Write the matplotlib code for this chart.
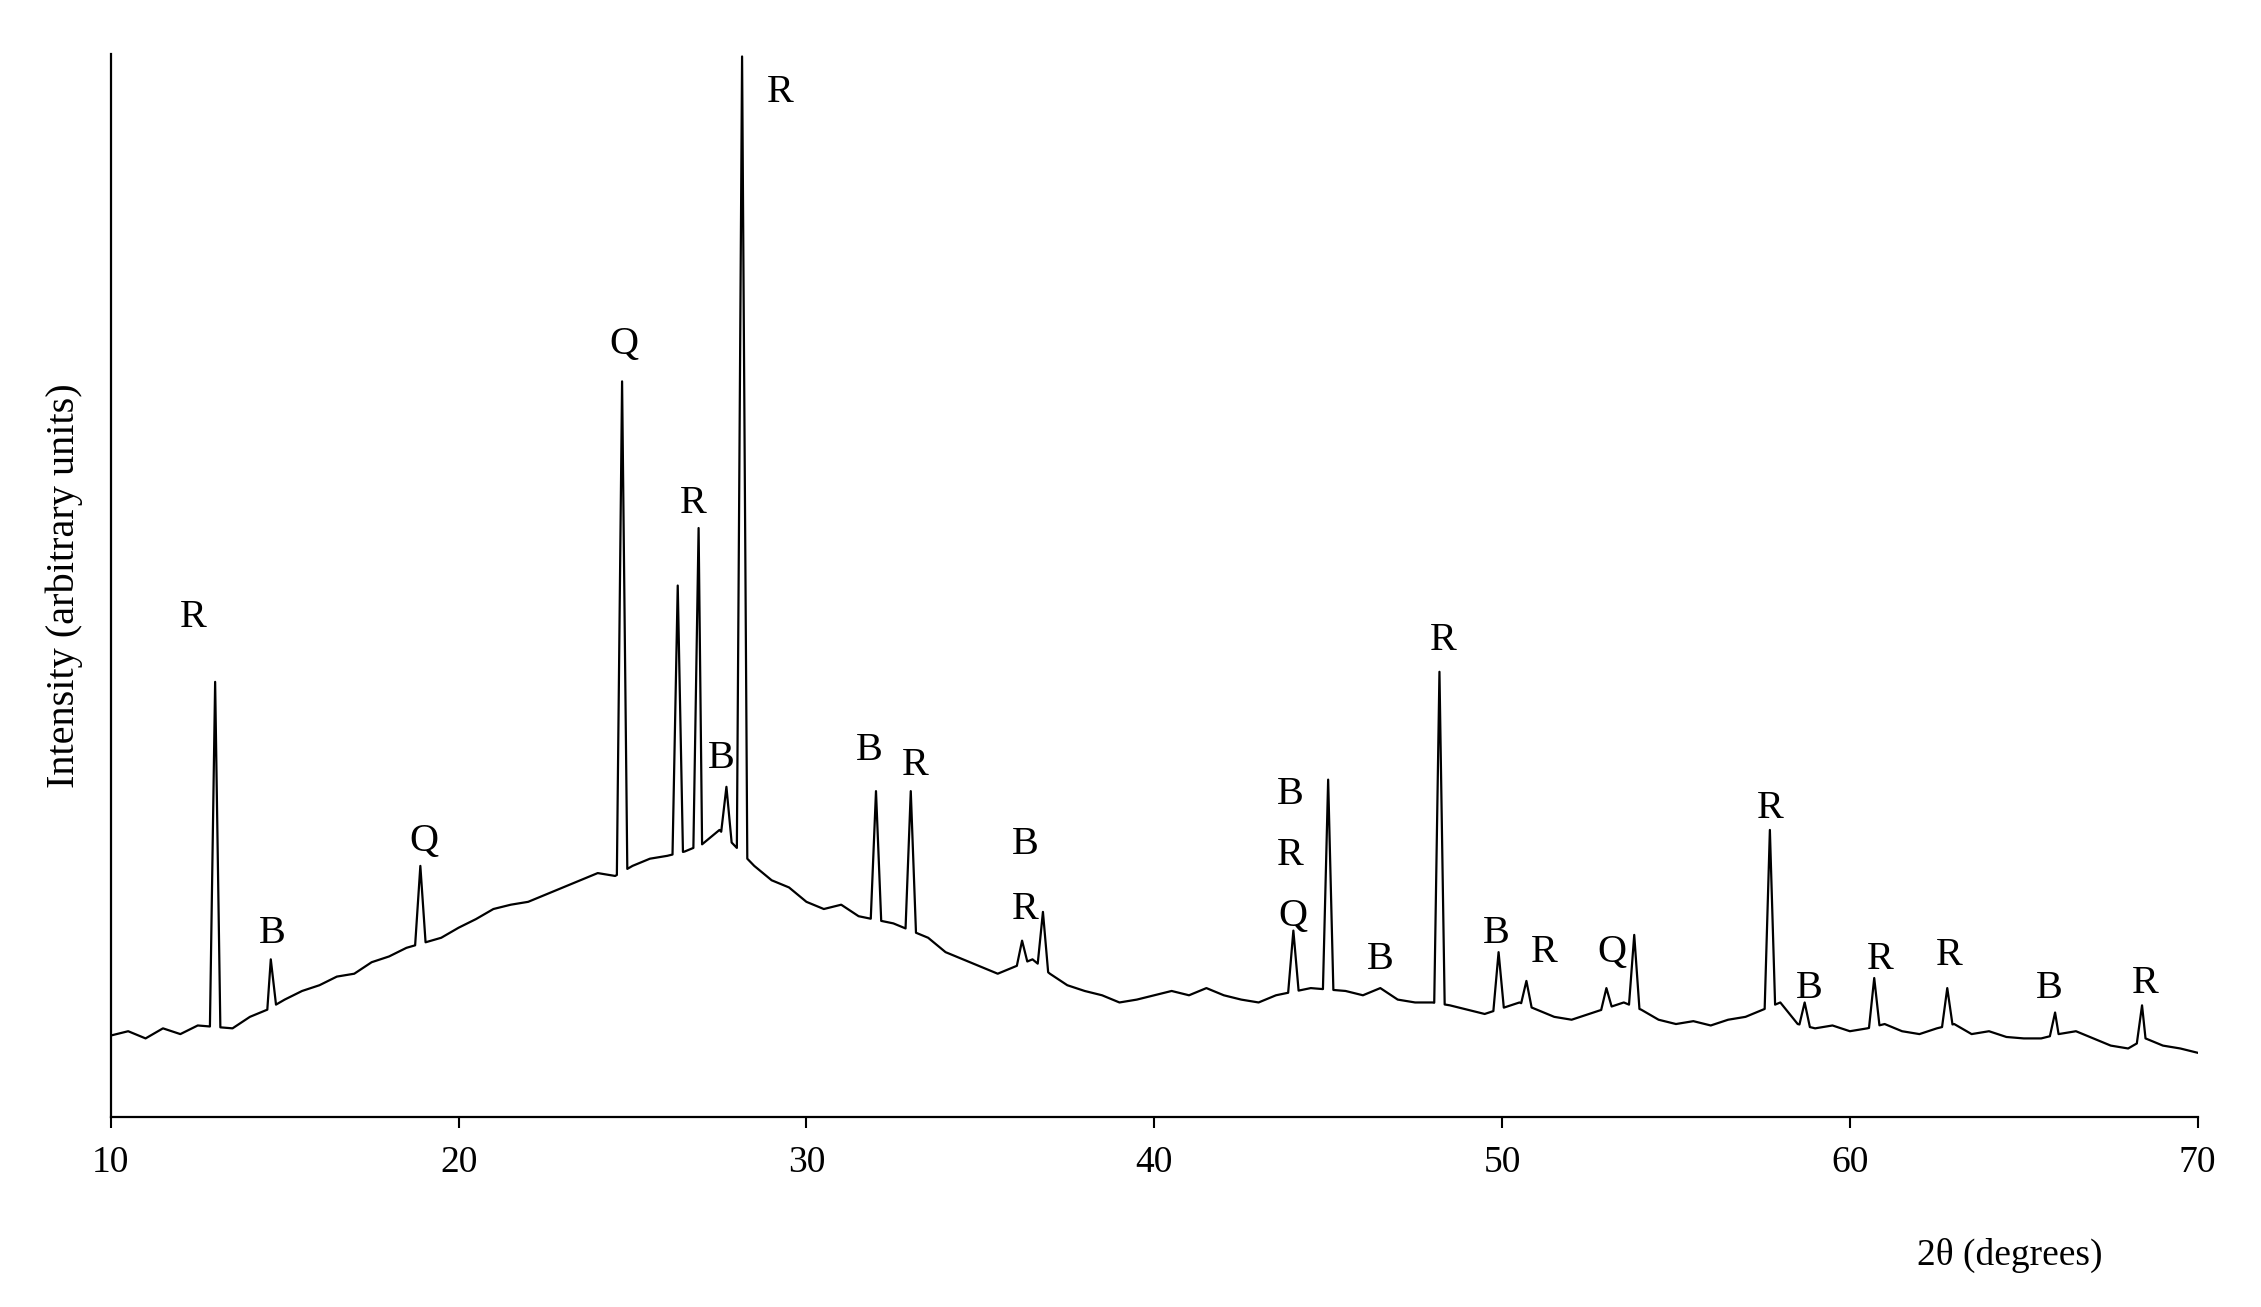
import matplotlib
matplotlib.use("Agg")
import matplotlib.pyplot as plt
import numpy as np

plt.rcParams['font.family'] = ['Liberation Serif', 'DejaVu Serif']

bg_x = [10,10.5,11,11.5,12,12.5,13.5,14,14.5,15,15.5,16,16.5,17,17.5,18,18.5,19.5,20,20.5,21,21.5,22,22.5,23,23.5,24,24.5,25,25.5,26,26.5,27,27.5,28.5,29,29.5,30,30.5,31,31.5,32.5,33.5,34,34.5,35,35.5,36,36.5,37,37.5,38,38.5,39,39.5,40,40.5,41,41.5,42,42.5,43,43.5,44.5,45.5,46,46.5,47,47.5,48,48.5,49,49.5,50.5,51,51.5,52,52.5,53.5,54,54.5,55,55.5,56,56.5,57,58,58.5,59,59.5,60,60.5,61,61.5,62,62.5,63,63.5,64,64.5,65,65.5,66,66.5,67,67.5,68,68.5,69,69.5,70]
bg_y = [57,60,55,62,58,64,62,70,75,82,88,92,98,100,108,112,118,125,132,138,145,148,150,155,160,165,170,168,175,180,182,185,190,200,175,165,160,150,145,148,140,135,125,115,110,105,100,105,110,100,92,88,85,80,82,85,88,85,90,85,82,80,85,90,88,85,90,82,80,80,78,75,72,80,75,70,68,72,80,75,68,65,67,64,68,70,80,65,62,64,60,62,65,60,58,62,65,58,60,56,55,55,58,60,55,50,48,55,50,48,45]

peak_pos = [13.0,14.6,18.9,24.7,26.3,26.9,27.7,28.15,32.0,33.0,36.2,36.8,44.0,45.0,46.5,48.2,49.9,50.7,53.0,53.8,57.7,58.7,60.7,62.8,65.9,68.4]
peak_top = [303,110,175,512,370,410,230,738,227,227,123,143,130,235,90,310,115,95,90,127,200,80,97,90,73,78]

labels = ['R','B','Q','Q','R','B','R','B','R','B','R','B','R','Q','B','R','B','R','Q','R','B','R','R','B','R']
label_x = [12.36,14.64,19.0,24.76,26.75,27.54,29.24,31.8,33.13,36.28,36.28,43.9,43.9,44.0,46.5,48.3,49.84,51.2,53.16,57.72,58.84,60.87,62.86,65.72,68.5]
label_y = [348,128,192,538,427,250,713,255,245,190,145,225,182,140,110,332,128,115,115,215,90,110,113,90,93]

bx = np.array(bg_x, float); by = np.array(bg_y, float)
xs = list(bx); ys = list(by)
for c, h in zip(peak_pos, peak_top):
    for dx in (-0.15, 0.15):
        xs.append(c + dx); ys.append(np.interp(c + dx, bx, by))
    xs.append(c); ys.append(h)
order = np.argsort(xs)
xs = np.array(xs)[order]; ys = np.array(ys)[order]

fig = plt.figure(figsize=(22.61, 13.07), dpi=100)
ax = fig.add_axes([0.049, 0.145, 0.923, 0.814])
ax.plot(xs, ys, color='black', lw=1.6)
for t, x, y in zip(labels, label_x, label_y):
    ax.text(x, y, t, ha='center', va='center', fontsize=29)
ax.set_xlim(10, 70)
ax.set_ylim(0, 740)
ax.set_xticks(range(10, 71, 10))
ax.set_yticks([])
ax.tick_params(axis='x', labelsize=27, direction='out', length=8, width=1.5, pad=12)
for s in ['top', 'right']:
    ax.spines[s].set_visible(False)
for s in ['left', 'bottom']:
    ax.spines[s].set_linewidth(1.6)
ax.set_ylabel('Intensity (arbitrary units)', fontsize=29, labelpad=20)
ax.text(0.91, -0.13, '2θ (degrees)', transform=ax.transAxes, fontsize=27, ha='center', va='center')
fig.savefig('out.png', dpi=100)
